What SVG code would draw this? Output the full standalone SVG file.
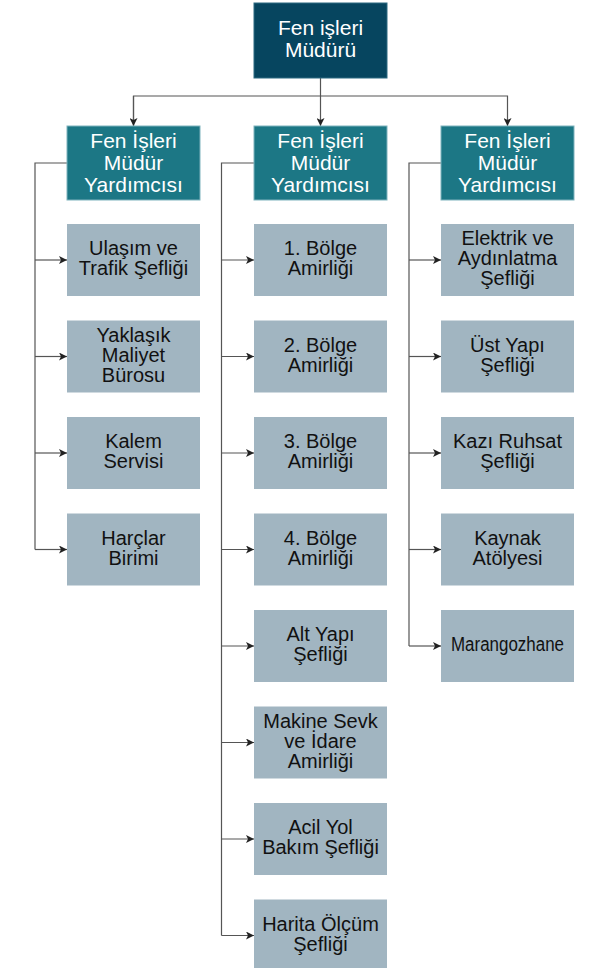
<svg xmlns="http://www.w3.org/2000/svg" width="590" height="968" viewBox="0 0 590 968">
<style>
text{font-family:"Liberation Sans",Arial,sans-serif;text-anchor:middle}
.top rect{fill:#06455f;stroke:#2d6a82;stroke-width:1}
.hdr rect{fill:#1c7785;stroke:#7fb3bd;stroke-width:1}
.hdr text,.top text{fill:#ffffff;font-size:21px}
.ch rect{fill:#a1b5c1}
.ch text{fill:#111111;font-size:20px}
.con path{fill:none;stroke:#555555;stroke-width:1.2}
</style>
<defs>
<marker id="ar" viewBox="0 0 10 10" refX="10" refY="5" markerWidth="9" markerHeight="8" markerUnits="userSpaceOnUse" orient="auto">
<path d="M0,0 L10,5 L0,10 L2.5,5 Z" fill="#222222"/>
</marker>
</defs>
<g id="connectors" class="con">
<path d="M320.5,78 V126" marker-end="url(#ar)"/>
<path d="M133.5,126 V96 H507.5 V126" marker-end="url(#ar)"/>
<path d="M133.5,96 V126" marker-end="url(#ar)"/>
<path d="M67,163 H35 V549.5"/>
<path d="M35,260 H67" marker-end="url(#ar)"/>
<path d="M35,356.5 H67" marker-end="url(#ar)"/>
<path d="M35,453 H67" marker-end="url(#ar)"/>
<path d="M35,549.5 H67" marker-end="url(#ar)"/>
<path d="M254,163 H221.5 V935.5"/>
<path d="M221.5,260 H254" marker-end="url(#ar)"/>
<path d="M221.5,356.5 H254" marker-end="url(#ar)"/>
<path d="M221.5,453 H254" marker-end="url(#ar)"/>
<path d="M221.5,549.5 H254" marker-end="url(#ar)"/>
<path d="M221.5,646 H254" marker-end="url(#ar)"/>
<path d="M221.5,742.5 H254" marker-end="url(#ar)"/>
<path d="M221.5,839 H254" marker-end="url(#ar)"/>
<path d="M221.5,935.5 H254" marker-end="url(#ar)"/>
<path d="M441,163 H409 V646"/>
<path d="M409,260 H441" marker-end="url(#ar)"/>
<path d="M409,356.5 H441" marker-end="url(#ar)"/>
<path d="M409,453 H441" marker-end="url(#ar)"/>
<path d="M409,549.5 H441" marker-end="url(#ar)"/>
<path d="M409,646 H441" marker-end="url(#ar)"/>
</g>
<g id="mudur" class="top"><rect x="254" y="3" width="133" height="75"/><text x="320.5" y="35">Fen işleri</text><text x="320.5" y="57">Müdürü</text></g>
<g id="yard1" class="hdr"><rect x="67" y="126" width="133" height="74"/><text x="133.5" y="148">Fen İşleri</text><text x="133.5" y="170">Müdür</text><text x="133.5" y="192">Yardımcısı</text></g>
<g id="yard2" class="hdr"><rect x="254" y="126" width="133" height="74"/><text x="320.5" y="148">Fen İşleri</text><text x="320.5" y="170">Müdür</text><text x="320.5" y="192">Yardımcısı</text></g>
<g id="yard3" class="hdr"><rect x="441" y="126" width="133" height="74"/><text x="507.5" y="148">Fen İşleri</text><text x="507.5" y="170">Müdür</text><text x="507.5" y="192">Yardımcısı</text></g>
<g id="ulasim" class="ch"><rect x="67" y="224" width="133" height="72"/><text x="133.5" y="255">Ulaşım ve</text><text x="133.5" y="275">Trafik Şefliği</text></g>
<g id="yaklasik" class="ch"><rect x="67" y="320.5" width="133" height="72"/><text x="133.5" y="341.5">Yaklaşık</text><text x="133.5" y="361.5">Maliyet</text><text x="133.5" y="381.5">Bürosu</text></g>
<g id="kalem" class="ch"><rect x="67" y="417" width="133" height="72"/><text x="133.5" y="448">Kalem</text><text x="133.5" y="468">Servisi</text></g>
<g id="harclar" class="ch"><rect x="67" y="513.5" width="133" height="72"/><text x="133.5" y="544.5">Harçlar</text><text x="133.5" y="564.5">Birimi</text></g>
<g id="bolge1" class="ch"><rect x="254" y="224" width="133" height="72"/><text x="320.5" y="255">1. Bölge</text><text x="320.5" y="275">Amirliği</text></g>
<g id="bolge2" class="ch"><rect x="254" y="320.5" width="133" height="72"/><text x="320.5" y="351.5">2. Bölge</text><text x="320.5" y="371.5">Amirliği</text></g>
<g id="bolge3" class="ch"><rect x="254" y="417" width="133" height="72"/><text x="320.5" y="448">3. Bölge</text><text x="320.5" y="468">Amirliği</text></g>
<g id="bolge4" class="ch"><rect x="254" y="513.5" width="133" height="72"/><text x="320.5" y="544.5">4. Bölge</text><text x="320.5" y="564.5">Amirliği</text></g>
<g id="altyapi" class="ch"><rect x="254" y="610" width="133" height="72"/><text x="320.5" y="641">Alt Yapı</text><text x="320.5" y="661">Şefliği</text></g>
<g id="makine" class="ch"><rect x="254" y="706.5" width="133" height="72"/><text x="320.5" y="727.5">Makine Sevk</text><text x="320.5" y="747.5">ve İdare</text><text x="320.5" y="767.5">Amirliği</text></g>
<g id="acil" class="ch"><rect x="254" y="803" width="133" height="72"/><text x="320.5" y="834">Acil Yol</text><text x="320.5" y="854">Bakım Şefliği</text></g>
<g id="harita" class="ch"><rect x="254" y="899.5" width="133" height="72"/><text x="320.5" y="930.5">Harita Ölçüm</text><text x="320.5" y="950.5">Şefliği</text></g>
<g id="elektrik" class="ch"><rect x="441" y="224" width="133" height="72"/><text x="507.5" y="245">Elektrik ve</text><text x="507.5" y="265">Aydınlatma</text><text x="507.5" y="285">Şefliği</text></g>
<g id="ustyapi" class="ch"><rect x="441" y="320.5" width="133" height="72"/><text x="507.5" y="351.5">Üst Yapı</text><text x="507.5" y="371.5">Şefliği</text></g>
<g id="kazi" class="ch"><rect x="441" y="417" width="133" height="72"/><text x="507.5" y="448">Kazı Ruhsat</text><text x="507.5" y="468">Şefliği</text></g>
<g id="kaynak" class="ch"><rect x="441" y="513.5" width="133" height="72"/><text x="507.5" y="544.5">Kaynak</text><text x="507.5" y="564.5">Atölyesi</text></g>
<g id="marangozhane" class="ch"><rect x="441" y="610" width="133" height="72"/><text x="507.5" y="651" textLength="113" lengthAdjust="spacingAndGlyphs">Marangozhane</text></g>
</svg>
